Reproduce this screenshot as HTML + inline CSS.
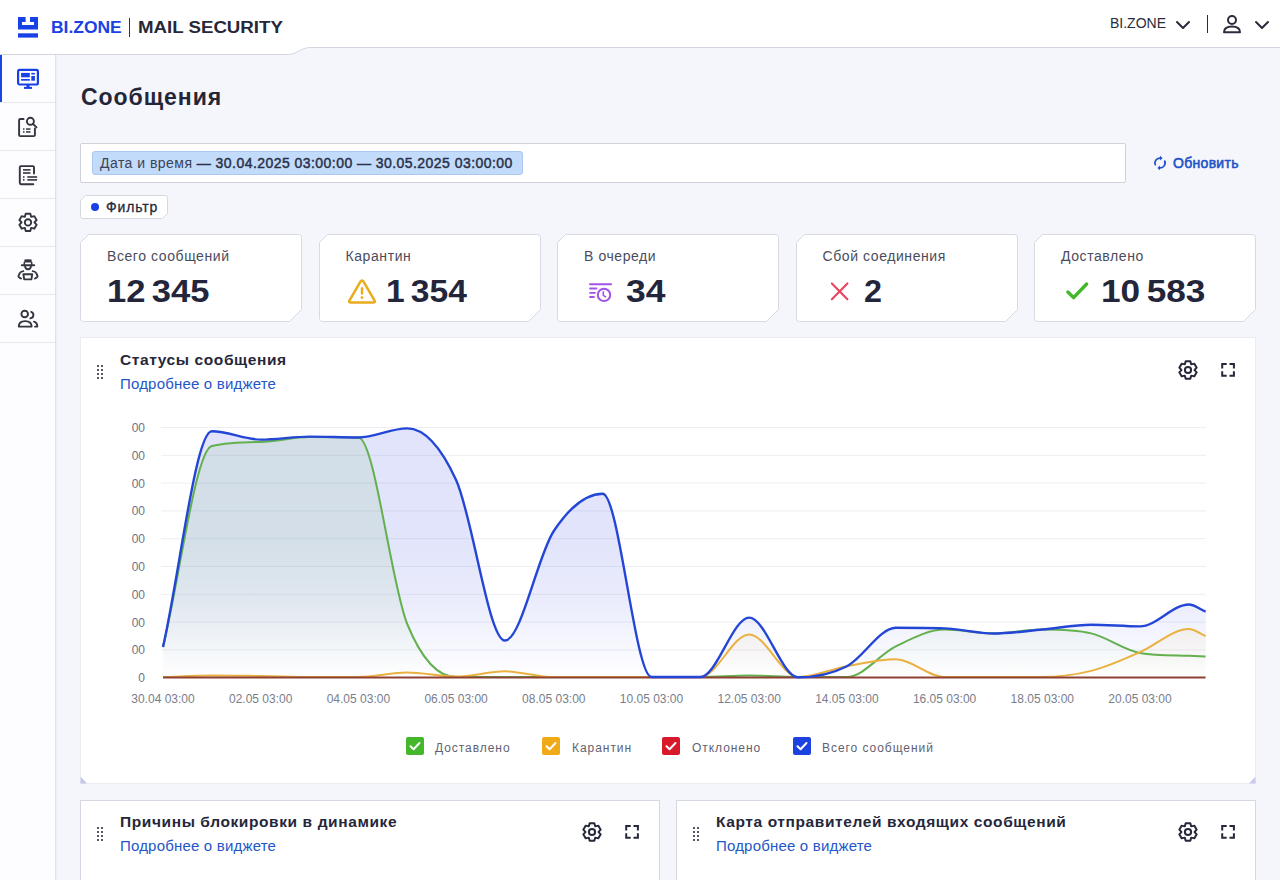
<!DOCTYPE html><html><head><meta charset="utf-8"><style>
*{box-sizing:border-box;margin:0;padding:0}
html,body{width:1280px;height:880px;overflow:hidden;background:#f5f6fb;font-family:"Liberation Sans",sans-serif;color:#262838}
.abs{position:absolute}
svg.bg{position:absolute;left:0;top:0}
.card{position:absolute;width:222px;height:88px}
.card .lbl{position:absolute;left:27px;top:14px;font-size:14px;color:#4a4c5c;white-space:nowrap;letter-spacing:0.58px}
.card .num{position:absolute;top:39px;font-size:32px;font-weight:bold;color:#23263a;white-space:nowrap}
.side-item{position:absolute;left:0;width:55px;height:48px;border-bottom:1px solid #e7e8ee}
.ylab{position:absolute;left:99px;width:46px;text-align:right;font-size:12px;color:#6f7281}
.xlab{position:absolute;width:100px;text-align:center;font-size:12px;color:#7a7d8a;top:691.5px}
.leg{position:absolute;top:740.5px;font-size:12px;color:#5f6272;white-space:nowrap;letter-spacing:0.95px}
.cb{position:absolute;width:18px;height:18px;border-radius:2px}
.wt{position:absolute;font-size:15.5px;font-weight:bold;color:#25273a;white-space:nowrap;letter-spacing:0.6px}
.wl{position:absolute;font-size:15px;color:#2456c8;white-space:nowrap;letter-spacing:0.19px}
</style></head><body>
<svg class="abs" style="left:0;top:0" width="1280" height="58">
<path d="M0,0 H1280 V47.5 H312 C306,47.5 304,48.5 300,50.5 L294,53.5 C291,54.2 290,54.5 286,54.5 H0 Z" fill="#fff"/>
<path d="M0,54.5 H286 C290,54.5 291,54.2 294,53.5 L300,50.5 C304,48.5 306,47.5 312,47.5 H1280" fill="none" stroke="#d4d6df" stroke-width="1"/>
</svg>
<svg class="abs" style="left:18px;top:17px" width="20" height="21" viewBox="0 0 20 21">
<path d="M0,0 H7.6 V5 H4 V8 H16 V5 H12 V0 H20 V12.4 H0 Z" fill="#1740e6"/>
<rect x="0" y="16.3" width="20" height="4.3" fill="#1740e6"/></svg>
<div class="abs" style="left:51px;top:19.2px;font-size:16px;font-weight:bold;color:#1a42e2;transform:scaleX(1.09);transform-origin:0 0">BI.ZONE</div>
<div class="abs" style="left:129px;top:18px;width:1.2px;height:19px;background:#30323f"></div>
<div class="abs" style="left:138px;top:19.2px;font-size:16px;font-weight:bold;color:#262838;transform:scaleX(1.167);transform-origin:0 0">MAIL SECURITY</div>

<div class="abs" style="left:1110px;top:15px;font-size:14px;color:#2a2c3b">BI.ZONE</div>
<svg class="abs" style="left:1175px;top:19px" width="16" height="12" viewBox="0 0 16 12"><path d="M2 3 L8 9 L14 3" fill="none" stroke="#2a2c3b" stroke-width="2" stroke-linecap="round" stroke-linejoin="round"/></svg>
<div class="abs" style="left:1207px;top:15px;width:1.4px;height:18px;background:#2a2c3b"></div>
<svg class="abs" style="left:1222px;top:14px" width="20" height="20" viewBox="0 0 20 20"><circle cx="10" cy="6" r="4" fill="none" stroke="#2a2c3b" stroke-width="2"/><path d="M2 18.2 C2 14 6 12.5 10 12.5 C14 12.5 18 14 18 18.2 Z" fill="none" stroke="#2a2c3b" stroke-width="2" stroke-linejoin="round"/></svg>
<svg class="abs" style="left:1254px;top:19px" width="16" height="12" viewBox="0 0 16 12"><path d="M2 3 L8 9 L14 3" fill="none" stroke="#2a2c3b" stroke-width="2" stroke-linecap="round" stroke-linejoin="round"/></svg>

<div class="abs" style="left:0;top:55px;width:56px;height:825px;background:#fdfdff;border-right:1px solid #dfe1e8"></div>
<div class="abs" style="left:56px;top:55px;width:2px;height:825px;background:#eef0fa"></div>
<div class="side-item" style="top:55px"></div>
<div class="side-item" style="top:103px"></div>
<div class="side-item" style="top:151px"></div>
<div class="side-item" style="top:199px"></div>
<div class="side-item" style="top:247px"></div>
<div class="side-item" style="top:295px"></div>
<div class="abs" style="left:0;top:55px;width:2px;height:47px;background:#1a44e6"></div>
<svg class="abs" style="left:16px;top:67px" width="24" height="24" viewBox="0 0 24 24">
<rect x="2.1" y="2.9" width="19.8" height="14.6" rx="1.5" fill="none" stroke="#1740e6" stroke-width="2.2"/>
<rect x="5.1" y="5.9" width="8.7" height="4.4" fill="#1740e6"/><rect x="5.1" y="12" width="8.7" height="1.7" fill="#1740e6"/>
<rect x="15.3" y="5.9" width="3.6" height="1.6" fill="#1740e6"/><rect x="15.3" y="9" width="3.6" height="4.7" fill="#1740e6"/>
<rect x="10.5" y="17" width="3" height="3" fill="#1740e6"/><rect x="8" y="19.9" width="8" height="2" fill="#1740e6"/></svg>
<svg class="abs" style="left:16px;top:115px" width="24" height="24" viewBox="0 0 24 24">
<path d="M7.6 4 H4.3 Q3.1 4 3.1 5.2 V19.9 Q3.1 21.1 4.3 21.1 H17.7 Q18.9 21.1 18.9 19.9 V13.5" fill="none" stroke="#33353f" stroke-width="1.9" stroke-linecap="round"/>
<circle cx="14.4" cy="6.3" r="3.5" fill="none" stroke="#33353f" stroke-width="1.9"/><path d="M17 8.9 L20.5 12.4" stroke="#33353f" stroke-width="1.9" stroke-linecap="round"/>
<rect x="7" y="13.3" width="1.5" height="1.5" fill="#33353f"/><rect x="10" y="13.3" width="4.5" height="1.5" fill="#33353f"/>
<rect x="7" y="16.2" width="1.5" height="1.5" fill="#33353f"/><rect x="10" y="16.2" width="4.5" height="1.5" fill="#33353f"/></svg>
<svg class="abs" style="left:16px;top:163px" width="24" height="24" viewBox="0 0 24 24">
<path d="M18.0 10.6 V4.3 Q18.0 3.1 16.8 3.1 H5.0 Q3.8 3.1 3.8 4.3 V20.0 Q3.8 21.2 5.0 21.2 H17.3" fill="none" stroke="#33353f" stroke-width="1.9" stroke-linecap="round"/>
<rect x="7" y="6.1" width="7.5" height="1.6" fill="#33353f"/><rect x="7" y="9.2" width="7.5" height="1.6" fill="#33353f"/>
<rect x="7" y="13.2" width="1.5" height="1.6" fill="#33353f"/><rect x="11.3" y="13.2" width="9.8" height="1.6" fill="#33353f"/>
<rect x="7" y="16.1" width="1.5" height="1.6" fill="#33353f"/><rect x="11.3" y="16.1" width="9.8" height="1.6" fill="#33353f"/></svg>
<svg class="abs" style="left:16px;top:210px" width="24" height="24" viewBox="0 0 24 24">
<path d="M8.90,6.69 L9.70,3.80 L14.30,3.80 L15.10,6.69 L15.40,6.86 L18.29,6.11 L20.60,10.10 L18.50,12.23 L18.50,12.57 L20.60,14.70 L18.29,18.69 L15.40,17.94 L15.10,18.11 L14.30,21.00 L9.70,21.00 L8.90,18.11 L8.60,17.94 L5.71,18.69 L3.40,14.70 L5.50,12.57 L5.50,12.23 L3.40,10.10 L5.71,6.11 L8.60,6.86Z" fill="none" stroke="#33353f" stroke-width="1.9" stroke-linejoin="round"/><circle cx="12" cy="12.4" r="3.2" fill="none" stroke="#33353f" stroke-width="1.9"/></svg>
<svg class="abs" style="left:16px;top:258px" width="24" height="24" viewBox="0 0 24 24">
<path d="M8.5 1.6 Q12 1.0 15.5 1.6 L15.8 4.6 H8.2 Z" fill="#33353f"/>
<path d="M8.3 4 V7 M15.7 4 V7" stroke="#33353f" stroke-width="1.5"/>
<path d="M5.9 7.3 H18.1" stroke="#33353f" stroke-width="2" stroke-linecap="round"/>
<path d="M9.1 8 Q9.1 11.2 12 11.2 Q14.9 11.2 14.9 8" fill="none" stroke="#33353f" stroke-width="1.9"/>
<path d="M7.3 13.1 Q4.6 13.4 3.6 15.4 L2.5 17.8 Q2.2 19 3.4 19.6 L5 20.5" fill="none" stroke="#33353f" stroke-width="1.9" stroke-linecap="round" stroke-linejoin="round"/>
<path d="M16.7 13.1 Q19.4 13.4 20.4 15.4 L21.5 17.8 Q21.8 19 20.6 19.6 L19 20.5" fill="none" stroke="#33353f" stroke-width="1.9" stroke-linecap="round" stroke-linejoin="round"/>
<path d="M7.4 16.3 H16.2 L15.4 21.4 H8.2 Z" fill="none" stroke="#33353f" stroke-width="1.9" stroke-linejoin="round"/></svg>
<svg class="abs" style="left:16px;top:306px" width="24" height="24" viewBox="0 0 24 24">
<circle cx="8.7" cy="8" r="3.3" fill="none" stroke="#33353f" stroke-width="1.9"/>
<path d="M15.2 5.9 A3.3 3.3 0 0 1 14.4 12.3" fill="none" stroke="#33353f" stroke-width="1.9" stroke-linecap="round"/>
<path d="M2.8 20.6 Q2.8 15.1 9.2 15.1 Q15.6 15.1 15.6 20.6 Z" fill="none" stroke="#33353f" stroke-width="1.9" stroke-linejoin="round"/>
<path d="M18 15.6 Q21.3 16.6 21.3 20.6 H19" fill="none" stroke="#33353f" stroke-width="1.9" stroke-linecap="round" stroke-linejoin="round"/></svg>
<div class="abs" style="left:81px;top:84px;font-size:23px;font-weight:bold;color:#242638;letter-spacing:0.95px">Сообщения</div>
<div class="abs" style="left:80px;top:143px;width:1046px;height:40px;background:#fff;border:1px solid #cfd2da;border-radius:2px"></div>
<div class="abs" style="left:92px;top:151px;width:431px;height:24px;background:#c3dbfa;border:1px solid #aac8f0;border-radius:3px"></div>
<div class="abs" style="left:100px;top:155px;font-size:14px;color:#3a4256;white-space:nowrap;letter-spacing:0.47px">Дата и время <b style="color:#2a3048;font-weight:normal;-webkit-text-stroke:0.45px #2a3048;letter-spacing:0.45px">— 30.04.2025 03:00:00 — 30.05.2025 03:00:00</b></div>
<svg class="abs" style="left:1153px;top:155px" width="14" height="16" viewBox="0 0 14 16">
<path d="M7.4 3.1 A5 4.9 0 0 0 2.6 10.4" fill="none" stroke="#2050d0" stroke-width="1.7"/>
<path d="M7.0 0.7 L9.6 3.1 L7.0 5.5 Z" fill="#2050d0"/>
<path d="M11.4 5.5 A5 4.9 0 0 1 6.6 12.9" fill="none" stroke="#2050d0" stroke-width="1.7"/>
<path d="M7.0 10.5 L4.4 12.9 L7.0 15.3 Z" fill="#2050d0"/></svg>
<div class="abs" style="left:1173px;top:155px;font-size:14px;color:#2152c8;-webkit-text-stroke:0.55px #2152c8;letter-spacing:0.3px">Обновить</div>
<div class="abs" style="left:80px;top:195px;width:88px;height:24px"><svg class="bg" width="88" height="24" viewBox="0 0 88 24"><path d="M5.5,0.5 L85.5,0.5 Q87.5,0.5 87.5,2.5 L87.5,18.5 L82.5,23.5 L2.5,23.5 Q0.5,23.5 0.5,21.5 L0.5,5.5 Z" fill="#fff" stroke="#d6d8e0" stroke-width="1" stroke-linejoin="round"/></svg><div class="abs" style="left:11px;top:8px;width:8px;height:8px;border-radius:50%;background:#1740e6"></div><div class="abs" style="left:26px;top:4px;font-size:14px;color:#262838;-webkit-text-stroke:0.3px #262838;letter-spacing:0.85px">Фильтр</div></div>
<div class="card" style="left:80.0px;top:234px"><svg class="bg" width="222" height="88" viewBox="0 0 222 88"><path d="M8.5,0.5 L218.5,0.5 Q221.5,0.5 221.5,3.5 L221.5,75.5 L209.5,87.5 L3.5,87.5 Q0.5,87.5 0.5,84.5 L0.5,8.5 Z" fill="#fff" stroke="#d8dae3" stroke-width="1" stroke-linejoin="round"/></svg><div class="lbl">Всего сообщений</div><div class="num" style="left:27px;word-spacing:-3px;transform:scaleX(1.08);transform-origin:0 0">12 345</div></div>
<div class="card" style="left:318.5px;top:234px"><svg class="bg" width="222" height="88" viewBox="0 0 222 88"><path d="M8.5,0.5 L218.5,0.5 Q221.5,0.5 221.5,3.5 L221.5,75.5 L209.5,87.5 L3.5,87.5 Q0.5,87.5 0.5,84.5 L0.5,8.5 Z" fill="#fff" stroke="#d8dae3" stroke-width="1" stroke-linejoin="round"/></svg><div class="lbl">Карантин</div><svg class="abs" style="left:267px;top:44px" width="30" height="28" viewBox="0 0 30 28"></svg><svg class="abs" style="left:28px;top:44px" width="30" height="28" viewBox="0 0 30 28"><path d="M15 2.4 Q15.9 2.4 16.4 3.3 L27.6 22.6 Q28.5 24.4 26.6 24.4 H3.4 Q1.5 24.4 2.4 22.6 L13.6 3.3 Q14.1 2.4 15 2.4 Z" fill="none" stroke="#e9ac1c" stroke-width="2.5" stroke-linejoin="round"/><path d="M15 10.2 V15.6" stroke="#e9ac1c" stroke-width="2.4" stroke-linecap="round"/><circle cx="15" cy="19.6" r="1.4" fill="#e9ac1c"/></svg><div class="num" style="left:67px;word-spacing:-3px;transform:scaleX(1.05);transform-origin:0 0">1 354</div></div>
<div class="card" style="left:557.0px;top:234px"><svg class="bg" width="222" height="88" viewBox="0 0 222 88"><path d="M8.5,0.5 L218.5,0.5 Q221.5,0.5 221.5,3.5 L221.5,75.5 L209.5,87.5 L3.5,87.5 Q0.5,87.5 0.5,84.5 L0.5,8.5 Z" fill="#fff" stroke="#d8dae3" stroke-width="1" stroke-linejoin="round"/></svg><div class="lbl">В очереди</div><svg class="abs" style="left:31px;top:47px" width="24" height="22" viewBox="0 0 24 22"><path d="M2 3.2 H23" stroke="#a254e8" stroke-width="2" stroke-linecap="round"/><path d="M2 7.5 H8.5 M2 11.8 H7 M2 16 H6" stroke="#a254e8" stroke-width="1.8" stroke-linecap="round"/><circle cx="16" cy="13.9" r="6.2" fill="none" stroke="#a254e8" stroke-width="2"/><path d="M15.3 10.8 V14.3 L17.6 15.8" fill="none" stroke="#a254e8" stroke-width="1.6" stroke-linecap="round" stroke-linejoin="round"/></svg><div class="num" style="left:68px;transform:scaleX(1.108);transform-origin:0 0;margin-left:1px">34</div></div>
<div class="card" style="left:795.5px;top:234px"><svg class="bg" width="222" height="88" viewBox="0 0 222 88"><path d="M8.5,0.5 L218.5,0.5 Q221.5,0.5 221.5,3.5 L221.5,75.5 L209.5,87.5 L3.5,87.5 Q0.5,87.5 0.5,84.5 L0.5,8.5 Z" fill="#fff" stroke="#d8dae3" stroke-width="1" stroke-linejoin="round"/></svg><div class="lbl">Сбой соединения</div><svg class="abs" style="left:33px;top:46px" width="22" height="22" viewBox="0 0 22 22"><path d="M2.9 3.4 L18.4 19.3 M18.4 3.4 L2.9 19.3" stroke="#e84660" stroke-width="2.1" stroke-linecap="round"/></svg><div class="num" style="left:67px;transform:scaleX(1.01);transform-origin:0 0;margin-left:1px">2</div></div>
<div class="card" style="left:1034.0px;top:234px"><svg class="bg" width="222" height="88" viewBox="0 0 222 88"><path d="M8.5,0.5 L218.5,0.5 Q221.5,0.5 221.5,3.5 L221.5,75.5 L209.5,87.5 L3.5,87.5 Q0.5,87.5 0.5,84.5 L0.5,8.5 Z" fill="#fff" stroke="#d8dae3" stroke-width="1" stroke-linejoin="round"/></svg><div class="lbl">Доставлено</div><svg class="abs" style="left:31px;top:45px" width="26" height="22" viewBox="0 0 26 22"><path d="M2.9 13 L8.6 18.6 L21.6 5" fill="none" stroke="#42b72a" stroke-width="3.4" stroke-linecap="round" stroke-linejoin="round"/></svg><div class="num" style="left:67px;word-spacing:-3px;transform:scaleX(1.10);transform-origin:0 0">10 583</div></div>
<div class="abs" style="left:80px;top:337px;width:1176px;height:447px;background:#fff;border:1px solid #eaecf2"></div>
<svg class="abs" style="left:1249px;top:776px" width="7" height="8"><path d="M6.5 0.5 V7.5 H0 Z" fill="#c9c9ef"/></svg>
<svg class="abs" style="left:80px;top:776px" width="7" height="8"><path d="M0.5 0.5 V7.5 H7 Z" fill="#c6c6ea"/></svg>
<div class="abs" style="left:97px;top:365px;width:2px;height:2px;background:#555866"></div><div class="abs" style="left:101px;top:365px;width:2px;height:2px;background:#555866"></div><div class="abs" style="left:97px;top:369px;width:2px;height:2px;background:#555866"></div><div class="abs" style="left:101px;top:369px;width:2px;height:2px;background:#555866"></div><div class="abs" style="left:97px;top:373px;width:2px;height:2px;background:#555866"></div><div class="abs" style="left:101px;top:373px;width:2px;height:2px;background:#555866"></div><div class="abs" style="left:97px;top:377px;width:2px;height:2px;background:#555866"></div><div class="abs" style="left:101px;top:377px;width:2px;height:2px;background:#555866"></div><div class="wt" style="left:120px;top:351px">Статусы сообщения</div><div class="wl" style="left:120px;top:375px">Подробнее о виджете</div><svg class="abs" style="left:1176px;top:358px" width="24" height="24" viewBox="0 0 24 24"><path d="M8.85,6.20 L9.67,3.31 L14.33,3.31 L15.15,6.20 L15.45,6.37 L18.36,5.64 L20.69,9.67 L18.60,11.83 L18.60,12.17 L20.69,14.33 L18.36,18.36 L15.45,17.63 L15.15,17.80 L14.33,20.69 L9.67,20.69 L8.85,17.80 L8.55,17.63 L5.64,18.36 L3.31,14.33 L5.40,12.17 L5.40,11.83 L3.31,9.67 L5.64,5.64 L8.55,6.37Z" fill="none" stroke="#25273a" stroke-width="2" stroke-linejoin="round"/><circle cx="12" cy="12" r="3.1" fill="none" stroke="#25273a" stroke-width="2"/></svg><svg class="abs" style="left:1219px;top:361px" width="18" height="18" viewBox="0 0 18 18"><path d="M3.2 7.6 V3.1 H7.7 M10.5 3.1 H14.9 V7.6 M14.9 10.3 V14.7 H10.5 M7.7 14.7 H3.2 V10.3" fill="none" stroke="#25273a" stroke-width="2"/></svg>
<div class="ylab" style="top:421.0px">00</div>
<div class="ylab" style="top:448.8px">00</div>
<div class="ylab" style="top:476.6px">00</div>
<div class="ylab" style="top:504.4px">00</div>
<div class="ylab" style="top:532.2px">00</div>
<div class="ylab" style="top:560.0px">00</div>
<div class="ylab" style="top:587.8px">00</div>
<div class="ylab" style="top:615.6px">00</div>
<div class="ylab" style="top:643.4px">00</div>
<div class="ylab" style="top:671.1px">0</div>
<div class="xlab" style="left:113.0px">30.04 03:00</div>
<div class="xlab" style="left:210.7px">02.05 03:00</div>
<div class="xlab" style="left:308.4px">04.05 03:00</div>
<div class="xlab" style="left:406.1px">06.05 03:00</div>
<div class="xlab" style="left:503.8px">08.05 03:00</div>
<div class="xlab" style="left:601.5px">10.05 03:00</div>
<div class="xlab" style="left:699.2px">12.05 03:00</div>
<div class="xlab" style="left:796.9px">14.05 03:00</div>
<div class="xlab" style="left:894.6px">16.05 03:00</div>
<div class="xlab" style="left:992.3px">18.05 03:00</div>
<div class="xlab" style="left:1090.0px">20.05 03:00</div>
<svg class="abs" style="left:0;top:0" width="1280" height="880">
<defs>
<linearGradient id="gb" gradientUnits="userSpaceOnUse" x1="0" y1="427" x2="0" y2="677"><stop offset="0" stop-color="#3348e0" stop-opacity="0.15"/><stop offset="0.45" stop-color="#3348e0" stop-opacity="0.145"/><stop offset="0.7" stop-color="#3348e0" stop-opacity="0.1"/><stop offset="1" stop-color="#3348e0" stop-opacity="0.0"/></linearGradient>
<linearGradient id="gg" gradientUnits="userSpaceOnUse" x1="0" y1="427" x2="0" y2="677"><stop offset="0" stop-color="#62b04e" stop-opacity="0.11"/><stop offset="0.45" stop-color="#62b04e" stop-opacity="0.11"/><stop offset="0.7" stop-color="#62b04e" stop-opacity="0.075"/><stop offset="1" stop-color="#62b04e" stop-opacity="0.0"/></linearGradient>
<linearGradient id="go" gradientUnits="userSpaceOnUse" x1="0" y1="600" x2="0" y2="677"><stop offset="0" stop-color="#eab040" stop-opacity="0.13"/><stop offset="1" stop-color="#eab040" stop-opacity="0.0"/></linearGradient>
</defs>
<path d="M161 427.5 H1206" stroke="#edeef3" stroke-width="1"/><path d="M161 455.3 H1206" stroke="#edeef3" stroke-width="1"/><path d="M161 483.1 H1206" stroke="#edeef3" stroke-width="1"/><path d="M161 510.9 H1206" stroke="#edeef3" stroke-width="1"/><path d="M161 538.7 H1206" stroke="#edeef3" stroke-width="1"/><path d="M161 566.5 H1206" stroke="#edeef3" stroke-width="1"/><path d="M161 594.3 H1206" stroke="#edeef3" stroke-width="1"/><path d="M161 622.1 H1206" stroke="#edeef3" stroke-width="1"/><path d="M161 649.9 H1206" stroke="#edeef3" stroke-width="1"/>
<path d="M163.0,647.0C179.3,575.1 195.6,431.3 211.8,431.3C228.1,431.3 244.4,439.6 260.7,439.6C277.0,439.6 293.3,436.6 309.6,436.6C325.8,436.6 342.1,437.5 358.4,437.5C374.7,437.5 391.0,428.4 407.2,428.4C423.5,428.4 439.8,444.6 456.1,480.0C472.4,515.4 488.7,640.5 504.9,640.5C521.2,640.5 537.5,555.5 553.8,531.0C570.1,506.5 586.4,493.7 602.7,493.7C618.9,493.7 635.2,677.0 651.5,677.0C667.8,677.0 684.1,677.0 700.4,677.0C716.6,677.0 732.9,617.6 749.2,617.6C765.5,617.6 781.8,677.3 798.1,677.3C814.3,677.3 830.6,674.5 846.9,666.2C863.2,658.0 879.5,627.8 895.8,627.8C912.0,627.8 928.3,627.8 944.6,628.4C960.9,629.0 977.2,633.5 993.5,633.5C1009.7,633.5 1026.0,631.0 1042.3,629.5C1058.6,628.0 1074.9,624.7 1091.2,624.7C1107.4,624.7 1123.7,626.4 1140.0,626.4C1156.3,626.4 1172.6,604.5 1188.9,604.5C1194.4,604.5 1200.0,609.3 1205.6,611.7L1205.6,677.5L163.0,677.5Z" fill="url(#gb)"/>
<path d="M163.0,647.0C179.3,580.0 195.6,450.1 211.8,446.0C228.1,441.9 244.4,442.1 260.7,441.9C277.0,441.7 293.3,437.0 309.6,437.0C325.8,437.0 342.1,437.0 358.4,437.5C374.7,438.0 391.0,584.1 407.2,624.0C423.5,663.9 439.8,677.0 456.1,677.0C472.4,677.0 488.7,677.0 504.9,677.0C521.2,677.0 537.5,677.0 553.8,677.0C570.1,677.0 586.4,677.0 602.7,677.0C618.9,677.0 635.2,677.0 651.5,677.0C667.8,677.0 684.1,677.0 700.4,677.0C716.6,677.0 732.9,675.5 749.2,675.5C765.5,675.5 781.8,677.0 798.1,677.0C814.3,677.0 830.6,677.0 846.9,677.0C863.2,677.0 879.5,654.3 895.8,646.4C912.0,638.5 928.3,629.6 944.6,629.6C960.9,629.6 977.2,633.5 993.5,633.5C1009.7,633.5 1026.0,629.6 1042.3,629.6C1058.6,629.6 1074.9,629.6 1091.2,633.4C1107.4,637.2 1123.7,650.1 1140.0,652.9C1156.3,655.7 1172.6,655.2 1188.9,655.8C1194.4,656.0 1200.0,656.3 1205.6,656.5L1205.6,677.5L163.0,677.5Z" fill="url(#gg)"/>
<path d="M163.0,677.0C179.3,676.5 195.6,675.5 211.8,675.5C228.1,675.5 244.4,675.8 260.7,676.0C277.0,676.2 293.3,677.0 309.6,677.0C325.8,677.0 342.1,677.0 358.4,677.0C374.7,677.0 391.0,672.5 407.2,672.5C423.5,672.5 439.8,676.5 456.1,676.5C472.4,676.5 488.7,671.3 504.9,671.3C521.2,671.3 537.5,677.0 553.8,677.0C570.1,677.0 586.4,677.0 602.7,677.0C618.9,677.0 635.2,677.0 651.5,677.0C667.8,677.0 684.1,677.0 700.4,677.0C716.6,677.0 732.9,634.4 749.2,634.4C765.5,634.4 781.8,677.0 798.1,677.0C814.3,677.0 830.6,669.2 846.9,666.2C863.2,663.2 879.5,659.3 895.8,659.3C912.0,659.3 928.3,677.0 944.6,677.0C960.9,677.0 977.2,677.0 993.5,677.0C1009.7,677.0 1026.0,677.0 1042.3,677.0C1058.6,677.0 1074.9,675.0 1091.2,670.9C1107.4,666.8 1123.7,659.1 1140.0,652.1C1156.3,645.1 1172.6,629.0 1188.9,629.0C1194.4,629.0 1200.0,633.7 1205.6,636.0L1205.6,677.5L163.0,677.5Z" fill="url(#go)"/>
<path d="M163.0,647.0C179.3,580.0 195.6,450.1 211.8,446.0C228.1,441.9 244.4,442.1 260.7,441.9C277.0,441.7 293.3,437.0 309.6,437.0C325.8,437.0 342.1,437.0 358.4,437.5C374.7,438.0 391.0,584.1 407.2,624.0C423.5,663.9 439.8,677.0 456.1,677.0C472.4,677.0 488.7,677.0 504.9,677.0C521.2,677.0 537.5,677.0 553.8,677.0C570.1,677.0 586.4,677.0 602.7,677.0C618.9,677.0 635.2,677.0 651.5,677.0C667.8,677.0 684.1,677.0 700.4,677.0C716.6,677.0 732.9,675.5 749.2,675.5C765.5,675.5 781.8,677.0 798.1,677.0C814.3,677.0 830.6,677.0 846.9,677.0C863.2,677.0 879.5,654.3 895.8,646.4C912.0,638.5 928.3,629.6 944.6,629.6C960.9,629.6 977.2,633.5 993.5,633.5C1009.7,633.5 1026.0,629.6 1042.3,629.6C1058.6,629.6 1074.9,629.6 1091.2,633.4C1107.4,637.2 1123.7,650.1 1140.0,652.9C1156.3,655.7 1172.6,655.2 1188.9,655.8C1194.4,656.0 1200.0,656.3 1205.6,656.5" fill="none" stroke="#62b04e" stroke-width="2"/>
<path d="M163.0,677.0C179.3,676.5 195.6,675.5 211.8,675.5C228.1,675.5 244.4,675.8 260.7,676.0C277.0,676.2 293.3,677.0 309.6,677.0C325.8,677.0 342.1,677.0 358.4,677.0C374.7,677.0 391.0,672.5 407.2,672.5C423.5,672.5 439.8,676.5 456.1,676.5C472.4,676.5 488.7,671.3 504.9,671.3C521.2,671.3 537.5,677.0 553.8,677.0C570.1,677.0 586.4,677.0 602.7,677.0C618.9,677.0 635.2,677.0 651.5,677.0C667.8,677.0 684.1,677.0 700.4,677.0C716.6,677.0 732.9,634.4 749.2,634.4C765.5,634.4 781.8,677.0 798.1,677.0C814.3,677.0 830.6,669.2 846.9,666.2C863.2,663.2 879.5,659.3 895.8,659.3C912.0,659.3 928.3,677.0 944.6,677.0C960.9,677.0 977.2,677.0 993.5,677.0C1009.7,677.0 1026.0,677.0 1042.3,677.0C1058.6,677.0 1074.9,675.0 1091.2,670.9C1107.4,666.8 1123.7,659.1 1140.0,652.1C1156.3,645.1 1172.6,629.0 1188.9,629.0C1194.4,629.0 1200.0,633.7 1205.6,636.0" fill="none" stroke="#eab040" stroke-width="2"/>
<path d="M163.0,677.5C179.3,677.5 195.6,677.5 211.8,677.5C228.1,677.5 244.4,677.5 260.7,677.5C277.0,677.5 293.3,677.5 309.6,677.5C325.8,677.5 342.1,677.5 358.4,677.5C374.7,677.5 391.0,677.5 407.2,677.5C423.5,677.5 439.8,677.5 456.1,677.5C472.4,677.5 488.7,677.5 504.9,677.5C521.2,677.5 537.5,677.5 553.8,677.5C570.1,677.5 586.4,677.5 602.7,677.5C618.9,677.5 635.2,677.5 651.5,677.5C667.8,677.5 684.1,677.5 700.4,677.5C716.6,677.5 732.9,677.5 749.2,677.5C765.5,677.5 781.8,677.5 798.1,677.5C814.3,677.5 830.6,677.5 846.9,677.5C863.2,677.5 879.5,677.5 895.8,677.5C912.0,677.5 928.3,677.5 944.6,677.5C960.9,677.5 977.2,677.5 993.5,677.5C1009.7,677.5 1026.0,677.5 1042.3,677.5C1058.6,677.5 1074.9,677.5 1091.2,677.5C1107.4,677.5 1123.7,677.5 1140.0,677.5C1156.3,677.5 1172.6,677.5 1188.9,677.5C1194.4,677.5 1200.0,677.5 1205.6,677.5" fill="none" stroke="#8e4034" stroke-width="2"/>
<path d="M163.0,647.0C179.3,575.1 195.6,431.3 211.8,431.3C228.1,431.3 244.4,439.6 260.7,439.6C277.0,439.6 293.3,436.6 309.6,436.6C325.8,436.6 342.1,437.5 358.4,437.5C374.7,437.5 391.0,428.4 407.2,428.4C423.5,428.4 439.8,444.6 456.1,480.0C472.4,515.4 488.7,640.5 504.9,640.5C521.2,640.5 537.5,555.5 553.8,531.0C570.1,506.5 586.4,493.7 602.7,493.7C618.9,493.7 635.2,677.0 651.5,677.0C667.8,677.0 684.1,677.0 700.4,677.0C716.6,677.0 732.9,617.6 749.2,617.6C765.5,617.6 781.8,677.3 798.1,677.3C814.3,677.3 830.6,674.5 846.9,666.2C863.2,658.0 879.5,627.8 895.8,627.8C912.0,627.8 928.3,627.8 944.6,628.4C960.9,629.0 977.2,633.5 993.5,633.5C1009.7,633.5 1026.0,631.0 1042.3,629.5C1058.6,628.0 1074.9,624.7 1091.2,624.7C1107.4,624.7 1123.7,626.4 1140.0,626.4C1156.3,626.4 1172.6,604.5 1188.9,604.5C1194.4,604.5 1200.0,609.3 1205.6,611.7" fill="none" stroke="#2446d6" stroke-width="2.4"/>
</svg>
<div class="cb" style="left:406px;top:737px;background:#45b72b"><svg width="18" height="18" viewBox="0 0 18 18" style="position:absolute;left:0;top:0"><path d="M4.5 9.2 L7.6 12.2 L13.5 6" fill="none" stroke="#fff" stroke-width="2" stroke-linecap="round" stroke-linejoin="round"/></svg></div>
<div class="leg" style="left:435px">Доставлено</div>
<div class="cb" style="left:542px;top:737px;background:#f0aa18"><svg width="18" height="18" viewBox="0 0 18 18" style="position:absolute;left:0;top:0"><path d="M4.5 9.2 L7.6 12.2 L13.5 6" fill="none" stroke="#fff" stroke-width="2" stroke-linecap="round" stroke-linejoin="round"/></svg></div>
<div class="leg" style="left:572px">Карантин</div>
<div class="cb" style="left:662px;top:737px;background:#d8192c"><svg width="18" height="18" viewBox="0 0 18 18" style="position:absolute;left:0;top:0"><path d="M4.5 9.2 L7.6 12.2 L13.5 6" fill="none" stroke="#fff" stroke-width="2" stroke-linecap="round" stroke-linejoin="round"/></svg></div>
<div class="leg" style="left:692px">Отклонено</div>
<div class="cb" style="left:793px;top:737px;background:#1c42e0"><svg width="18" height="18" viewBox="0 0 18 18" style="position:absolute;left:0;top:0"><path d="M4.5 9.2 L7.6 12.2 L13.5 6" fill="none" stroke="#fff" stroke-width="2" stroke-linecap="round" stroke-linejoin="round"/></svg></div>
<div class="leg" style="left:822px">Всего сообщений</div>
<div class="abs" style="left:80px;top:800px;width:580px;height:100px;background:#fff;border:1px solid #d5d8e0"></div>
<div class="abs" style="left:676px;top:800px;width:580px;height:100px;background:#fff;border:1px solid #d5d8e0"></div>
<div class="abs" style="left:97px;top:827px;width:2px;height:2px;background:#555866"></div><div class="abs" style="left:101px;top:827px;width:2px;height:2px;background:#555866"></div><div class="abs" style="left:97px;top:831px;width:2px;height:2px;background:#555866"></div><div class="abs" style="left:101px;top:831px;width:2px;height:2px;background:#555866"></div><div class="abs" style="left:97px;top:835px;width:2px;height:2px;background:#555866"></div><div class="abs" style="left:101px;top:835px;width:2px;height:2px;background:#555866"></div><div class="abs" style="left:97px;top:839px;width:2px;height:2px;background:#555866"></div><div class="abs" style="left:101px;top:839px;width:2px;height:2px;background:#555866"></div><div class="wt" style="left:120px;top:813px">Причины блокировки в динамике</div><div class="wl" style="left:120px;top:837px">Подробнее о виджете</div><svg class="abs" style="left:580px;top:820px" width="24" height="24" viewBox="0 0 24 24"><path d="M8.85,6.20 L9.67,3.31 L14.33,3.31 L15.15,6.20 L15.45,6.37 L18.36,5.64 L20.69,9.67 L18.60,11.83 L18.60,12.17 L20.69,14.33 L18.36,18.36 L15.45,17.63 L15.15,17.80 L14.33,20.69 L9.67,20.69 L8.85,17.80 L8.55,17.63 L5.64,18.36 L3.31,14.33 L5.40,12.17 L5.40,11.83 L3.31,9.67 L5.64,5.64 L8.55,6.37Z" fill="none" stroke="#25273a" stroke-width="2" stroke-linejoin="round"/><circle cx="12" cy="12" r="3.1" fill="none" stroke="#25273a" stroke-width="2"/></svg><svg class="abs" style="left:623px;top:823px" width="18" height="18" viewBox="0 0 18 18"><path d="M3.2 7.6 V3.1 H7.7 M10.5 3.1 H14.9 V7.6 M14.9 10.3 V14.7 H10.5 M7.7 14.7 H3.2 V10.3" fill="none" stroke="#25273a" stroke-width="2"/></svg>
<div class="abs" style="left:693px;top:827px;width:2px;height:2px;background:#555866"></div><div class="abs" style="left:697px;top:827px;width:2px;height:2px;background:#555866"></div><div class="abs" style="left:693px;top:831px;width:2px;height:2px;background:#555866"></div><div class="abs" style="left:697px;top:831px;width:2px;height:2px;background:#555866"></div><div class="abs" style="left:693px;top:835px;width:2px;height:2px;background:#555866"></div><div class="abs" style="left:697px;top:835px;width:2px;height:2px;background:#555866"></div><div class="abs" style="left:693px;top:839px;width:2px;height:2px;background:#555866"></div><div class="abs" style="left:697px;top:839px;width:2px;height:2px;background:#555866"></div><div class="wt" style="left:716px;top:813px">Карта отправителей входящих сообщений</div><div class="wl" style="left:716px;top:837px">Подробнее о виджете</div><svg class="abs" style="left:1176px;top:820px" width="24" height="24" viewBox="0 0 24 24"><path d="M8.85,6.20 L9.67,3.31 L14.33,3.31 L15.15,6.20 L15.45,6.37 L18.36,5.64 L20.69,9.67 L18.60,11.83 L18.60,12.17 L20.69,14.33 L18.36,18.36 L15.45,17.63 L15.15,17.80 L14.33,20.69 L9.67,20.69 L8.85,17.80 L8.55,17.63 L5.64,18.36 L3.31,14.33 L5.40,12.17 L5.40,11.83 L3.31,9.67 L5.64,5.64 L8.55,6.37Z" fill="none" stroke="#25273a" stroke-width="2" stroke-linejoin="round"/><circle cx="12" cy="12" r="3.1" fill="none" stroke="#25273a" stroke-width="2"/></svg><svg class="abs" style="left:1219px;top:823px" width="18" height="18" viewBox="0 0 18 18"><path d="M3.2 7.6 V3.1 H7.7 M10.5 3.1 H14.9 V7.6 M14.9 10.3 V14.7 H10.5 M7.7 14.7 H3.2 V10.3" fill="none" stroke="#25273a" stroke-width="2"/></svg>
</body></html>
